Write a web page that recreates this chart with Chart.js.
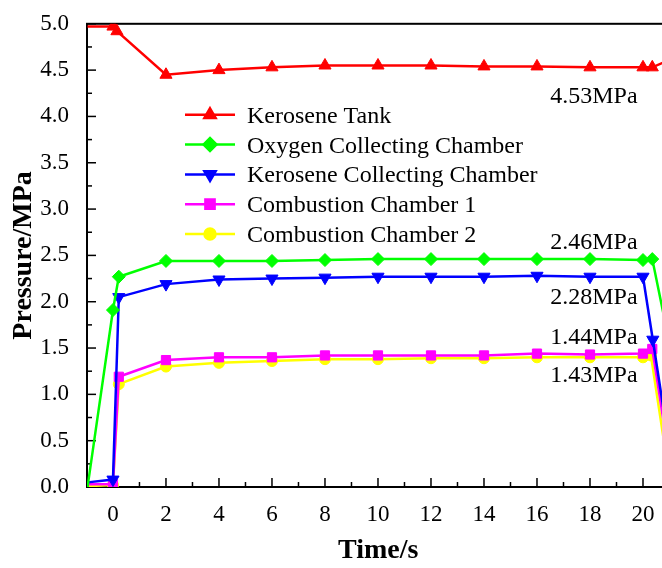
<!DOCTYPE html>
<html>
<head>
<meta charset="utf-8">
<script src="https://cdn.jsdelivr.net/npm/chart.js@4.4.1/dist/chart.umd.min.js"></script>
<style>
  html, body { margin: 0; padding: 0; background: #fff; overflow: hidden; }
  #wrap { width: 680px; height: 568px; }
</style>
</head>
<body>
<div id="wrap"><canvas id="chart" width="680" height="568"></canvas></div>
<script>
// series names (legend order)
const seriesNames = [
  "Kerosene Tank",
  "Oxygen Collecting Chamber",
  "Kerosene Collecting Chamber",
  "Combustion Chamber 1",
  "Combustion Chamber 2"
];

// time (s) and pressure (MPa)
const tankTime = [-0.96, 0, 0.15, 2, 4, 6, 8, 10, 12, 14, 16, 18, 20, 20.35, 21];
const tankP    = [4.97, 4.97, 4.92, 4.45, 4.50, 4.53, 4.55, 4.55, 4.55, 4.54, 4.54, 4.53, 4.53, 4.53, 4.61];

const oxyTime = [-0.96, 0, 0.22, 2, 4, 6, 8, 10, 12, 14, 16, 18, 20, 20.35, 21];
const oxyP    = [0.0, 1.91, 2.27, 2.44, 2.44, 2.44, 2.45, 2.46, 2.46, 2.46, 2.46, 2.46, 2.45, 2.46, 1.55];

const keroTime = [-0.96, 0, 0.22, 2, 4, 6, 8, 10, 12, 14, 16, 18, 20, 20.37, 21.2];
const keroP    = [0.05, 0.08, 2.05, 2.19, 2.24, 2.25, 2.26, 2.27, 2.27, 2.27, 2.28, 2.27, 2.27, 1.59, 0.05];

const cc1Time = [-0.96, 0, 0.22, 2, 4, 6, 8, 10, 12, 14, 16, 18, 20, 20.35, 21];
const cc1P    = [0.03, 0.03, 1.19, 1.37, 1.40, 1.40, 1.42, 1.42, 1.42, 1.42, 1.44, 1.43, 1.44, 1.49, 0.3];

const cc2Time = [-0.96, 0, 0.22, 2, 4, 6, 8, 10, 12, 14, 16, 18, 20, 20.3, 21];
const cc2P    = [0.01, 0.02, 1.11, 1.30, 1.34, 1.36, 1.38, 1.38, 1.39, 1.39, 1.40, 1.40, 1.40, 1.42, 0.1];

// axis ticks
const xMajorTicks = [0, 2, 4, 6, 8, 10, 12, 14, 16, 18, 20];
const xMinorTicks = [1, 3, 5, 7, 9, 11, 13, 15, 17, 19];
const yMajorTicks = [0, 0.5, 1, 1.5, 2, 2.5, 3, 3.5, 4, 4.5, 5];
const yMinorTicks = [0.25, 0.75, 1.25, 1.75, 2.25, 2.75, 3.25, 3.75, 4.25, 4.75];

// value labels written on the plot
const noteTexts = ["4.53MPa", "2.46MPa", "2.28MPa", "1.44MPa", "1.43MPa"];
const noteX     = [16.5, 16.5, 16.5, 16.5, 16.5];
const noteY     = [4.23, 2.66, 2.06, 1.635, 1.22];

const serif = "'Liberation Serif', 'Times New Roman', serif";

function pts(t, p) {
  return t.map((v, i) => ({ x: v, y: p[i] }));
}

// hide the first and last marker (on the axis / off the right edge)
function radiusFor(r) {
  return (c) => (c.dataIndex === 0 || c.dataIndex === c.dataset.data.length - 1 ? 0 : r);
}

function makeSet(i, data, color, style, r, rot) {
  return {
    label: seriesNames[i],
    data,
    borderColor: color,
    backgroundColor: color,
    borderWidth: 2.5,
    pointStyle: style,
    pointRotation: rot || 0,
    pointRadius: radiusFor(r),
    pointBorderWidth: 1,
    tension: 0
  };
}

function line(ctx, x1, y1, x2, y2) {
  ctx.beginPath();
  ctx.moveTo(x1, y1);
  ctx.lineTo(x2, y2);
  ctx.stroke();
}

const frameAndTicks = {
  id: "frameAndTicks",
  beforeDatasetsDraw(chart) {
    const { ctx, chartArea: a, scales: { x, y } } = chart;
    ctx.save();
    ctx.strokeStyle = "#000";
    ctx.lineWidth = 1.5;
    for (const v of yMajorTicks) { const py = y.getPixelForValue(v); line(ctx, a.left, py, a.left + 9, py); }
    for (const v of yMinorTicks) { const py = y.getPixelForValue(v); line(ctx, a.left, py, a.left + 5, py); }
    for (const v of xMajorTicks) { const px = x.getPixelForValue(v); line(ctx, px, a.bottom, px, a.bottom - 9); }
    for (const v of xMinorTicks) { const px = x.getPixelForValue(v); line(ctx, px, a.bottom, px, a.bottom - 5); }
    ctx.lineWidth = 2;
    ctx.strokeRect(a.left, a.top, a.right - a.left, a.bottom - a.top);
    ctx.restore();
  }
};

const legendInPlot = {
  id: "legendInPlot",
  afterDatasetsDraw(chart) {
    const { ctx, chartArea: a } = chart;
    const x0 = a.left + 98, x1 = a.left + 148, tx = a.left + 160;
    ctx.save();
    ctx.font = "24px " + serif;
    ctx.textBaseline = "alphabetic";
    chart.data.datasets.forEach((ds, i) => {
      const yy = a.top + 91 + i * 29.8;
      ctx.strokeStyle = ds.borderColor;
      ctx.fillStyle = ds.backgroundColor;
      ctx.lineWidth = ds.borderWidth;
      line(ctx, x0, yy, x1, yy);
      Chart.helpers.drawPoint(ctx, {
        pointStyle: ds.pointStyle,
        rotation: ds.pointRotation,
        radius: ds.pointStyle === "circle" ? 5.5 : 6.5,
        borderWidth: 1
      }, (x0 + x1) / 2, yy);
      ctx.fillStyle = "#000";
      ctx.fillText(ds.label, tx, yy + 8);
    });
    ctx.restore();
  }
};

const valueNotes = {
  id: "valueNotes",
  afterDatasetsDraw(chart) {
    const { ctx, scales: { x, y } } = chart;
    ctx.save();
    ctx.font = "24px " + serif;
    ctx.fillStyle = "#000";
    ctx.textBaseline = "alphabetic";
    noteTexts.forEach((t, i) => {
      ctx.fillText(t, x.getPixelForValue(noteX[i]), y.getPixelForValue(noteY[i]) + 8);
    });
    ctx.restore();
  }
};

new Chart(document.getElementById("chart"), {
  type: "line",
  data: {
    datasets: [
      makeSet(0, pts(tankTime, tankP), "#ff0000", "triangle", 7),
      makeSet(1, pts(oxyTime, oxyP), "#00ff00", "rectRot", 6.5),
      makeSet(2, pts(keroTime, keroP), "#0000ff", "triangle", 7, 180),
      makeSet(3, pts(cc1Time, cc1P), "#ff00ff", "rect", 6.5),
      makeSet(4, pts(cc2Time, cc2P), "#ffff00", "circle", 5.5)
    ]
  },
  options: {
    responsive: false,
    animation: false,
    layout: { padding: { left: 0, top: 17, right: 10.5, bottom: 0 } },
    plugins: { legend: { display: false }, tooltip: { enabled: false } },
    scales: {
      x: {
        type: "linear",
        min: -0.98,
        max: 21,
        afterBuildTicks: (s) => { s.ticks = xMajorTicks.map((v) => ({ value: v })); },
        afterFit: (s) => { s.height = 81; },
        grid: { display: false },
        border: { display: false },
        ticks: { padding: 6, color: "#000", font: { family: serif, size: 23 } },
        title: { display: true, text: "Time/s", color: "#000", padding: { top: 0, bottom: 0 },
                 font: { family: serif, size: 28, weight: "bold" } }
      },
      y: {
        type: "linear",
        min: 0,
        max: 5,
        afterBuildTicks: (s) => { s.ticks = yMajorTicks.map((v) => ({ value: v })); },
        afterFit: (s) => { s.width = 87; },
        grid: { display: false },
        border: { display: false },
        ticks: { padding: 10, color: "#000", font: { family: serif, size: 23 },
                 callback: (v) => Number(v).toFixed(1) },
        title: { display: true, text: "Pressure/MPa", color: "#000", padding: { top: 7, bottom: 0 },
                 font: { family: serif, size: 28, weight: "bold" } }
      }
    }
  },
  plugins: [frameAndTicks, legendInPlot, valueNotes]
});
</script>
</body>
</html>
